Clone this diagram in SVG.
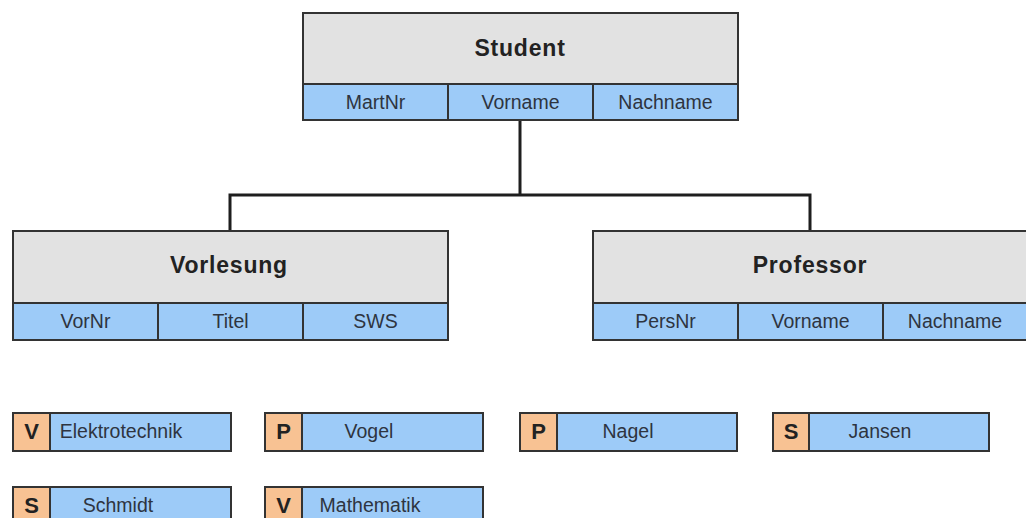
<svg xmlns="http://www.w3.org/2000/svg" width="1026" height="518" viewBox="0 0 1026 518">
  <style>
    .frame { stroke: #333333; stroke-width: 2; }
    .head { fill: #e2e2e2; }
    .attr { fill: #9dcbf8; }
    .tag { fill: #f8c293; }
    .title { font-family: "Liberation Sans", Arial, sans-serif; font-size: 23px; font-weight: bold; fill: #222222; text-anchor: middle; letter-spacing: 0.8px; }
    .field { font-family: "Liberation Sans", Arial, sans-serif; font-size: 19.5px; fill: #2e3440; text-anchor: middle; }
    .letter { font-family: "Liberation Sans", Arial, sans-serif; font-size: 22px; font-weight: bold; fill: #222222; text-anchor: middle; }
    .link { fill: none; stroke: #1e1e1e; stroke-width: 3; }
  </style>
  <rect width="1026" height="518" fill="#ffffff"/>

  <!-- hierarchy connectors -->
  <g id="connectors">
    <path class="link" d="M520 120 V195"/>
    <path class="link" d="M230 231 V195 H810 V231"/>
  </g>

  <!-- Student entity -->
  <g id="student">
    <rect class="head frame" x="303" y="13" width="435" height="71"/>
    <rect class="attr frame" x="303" y="84" width="145" height="36"/>
    <rect class="attr frame" x="448" y="84" width="145" height="36"/>
    <rect class="attr frame" x="593" y="84" width="145" height="36"/>
    <text class="title" x="520" y="56">Student</text>
    <text class="field" x="375.5" y="109">MartNr</text>
    <text class="field" x="520.5" y="109">Vorname</text>
    <text class="field" x="665.5" y="109">Nachname</text>
  </g>

  <!-- Vorlesung entity -->
  <g id="vorlesung">
    <rect class="head frame" x="13" y="231" width="435" height="72"/>
    <rect class="attr frame" x="13" y="303" width="145" height="37"/>
    <rect class="attr frame" x="158" y="303" width="145" height="37"/>
    <rect class="attr frame" x="303" y="303" width="145" height="37"/>
    <text class="title" x="229" y="273">Vorlesung</text>
    <text class="field" x="85.5" y="328">VorNr</text>
    <text class="field" x="230.5" y="328">Titel</text>
    <text class="field" x="375.5" y="328">SWS</text>
  </g>

  <!-- Professor entity -->
  <g id="professor">
    <rect class="head frame" x="593" y="231" width="436" height="72"/>
    <rect class="attr frame" x="593" y="303" width="145" height="37"/>
    <rect class="attr frame" x="738" y="303" width="145" height="37"/>
    <rect class="attr frame" x="883" y="303" width="146" height="37"/>
    <text class="title" x="810" y="273">Professor</text>
    <text class="field" x="665.5" y="328">PersNr</text>
    <text class="field" x="810.5" y="328">Vorname</text>
    <text class="field" x="955" y="328">Nachname</text>
  </g>

  <!-- instance records: type tag + value -->
  <g id="elektrotechnik">
    <rect class="attr frame" x="13" y="413" width="218" height="38"/>
    <rect class="tag frame" x="13" y="413" width="37" height="38"/>
    <text class="letter" x="31.5" y="439">V</text>
    <text class="field" x="121" y="438">Elektrotechnik</text>
  </g>
  <g id="vogel">
    <rect class="attr frame" x="265" y="413" width="218" height="38"/>
    <rect class="tag frame" x="265" y="413" width="37" height="38"/>
    <text class="letter" x="283.5" y="439">P</text>
    <text class="field" x="369" y="438">Vogel</text>
  </g>
  <g id="nagel">
    <rect class="attr frame" x="520" y="413" width="217" height="38"/>
    <rect class="tag frame" x="520" y="413" width="37" height="38"/>
    <text class="letter" x="538.5" y="439">P</text>
    <text class="field" x="628" y="438">Nagel</text>
  </g>
  <g id="jansen">
    <rect class="attr frame" x="773" y="413" width="216" height="38"/>
    <rect class="tag frame" x="773" y="413" width="36" height="38"/>
    <text class="letter" x="791" y="439">S</text>
    <text class="field" x="880" y="438">Jansen</text>
  </g>
  <g id="schmidt">
    <rect class="attr frame" x="13" y="487" width="218" height="38"/>
    <rect class="tag frame" x="13" y="487" width="37" height="38"/>
    <text class="letter" x="31.5" y="513">S</text>
    <text class="field" x="118" y="512">Schmidt</text>
  </g>
  <g id="mathematik">
    <rect class="attr frame" x="265" y="487" width="218" height="38"/>
    <rect class="tag frame" x="265" y="487" width="37" height="38"/>
    <text class="letter" x="283.5" y="513">V</text>
    <text class="field" x="370" y="512">Mathematik</text>
  </g>
</svg>
